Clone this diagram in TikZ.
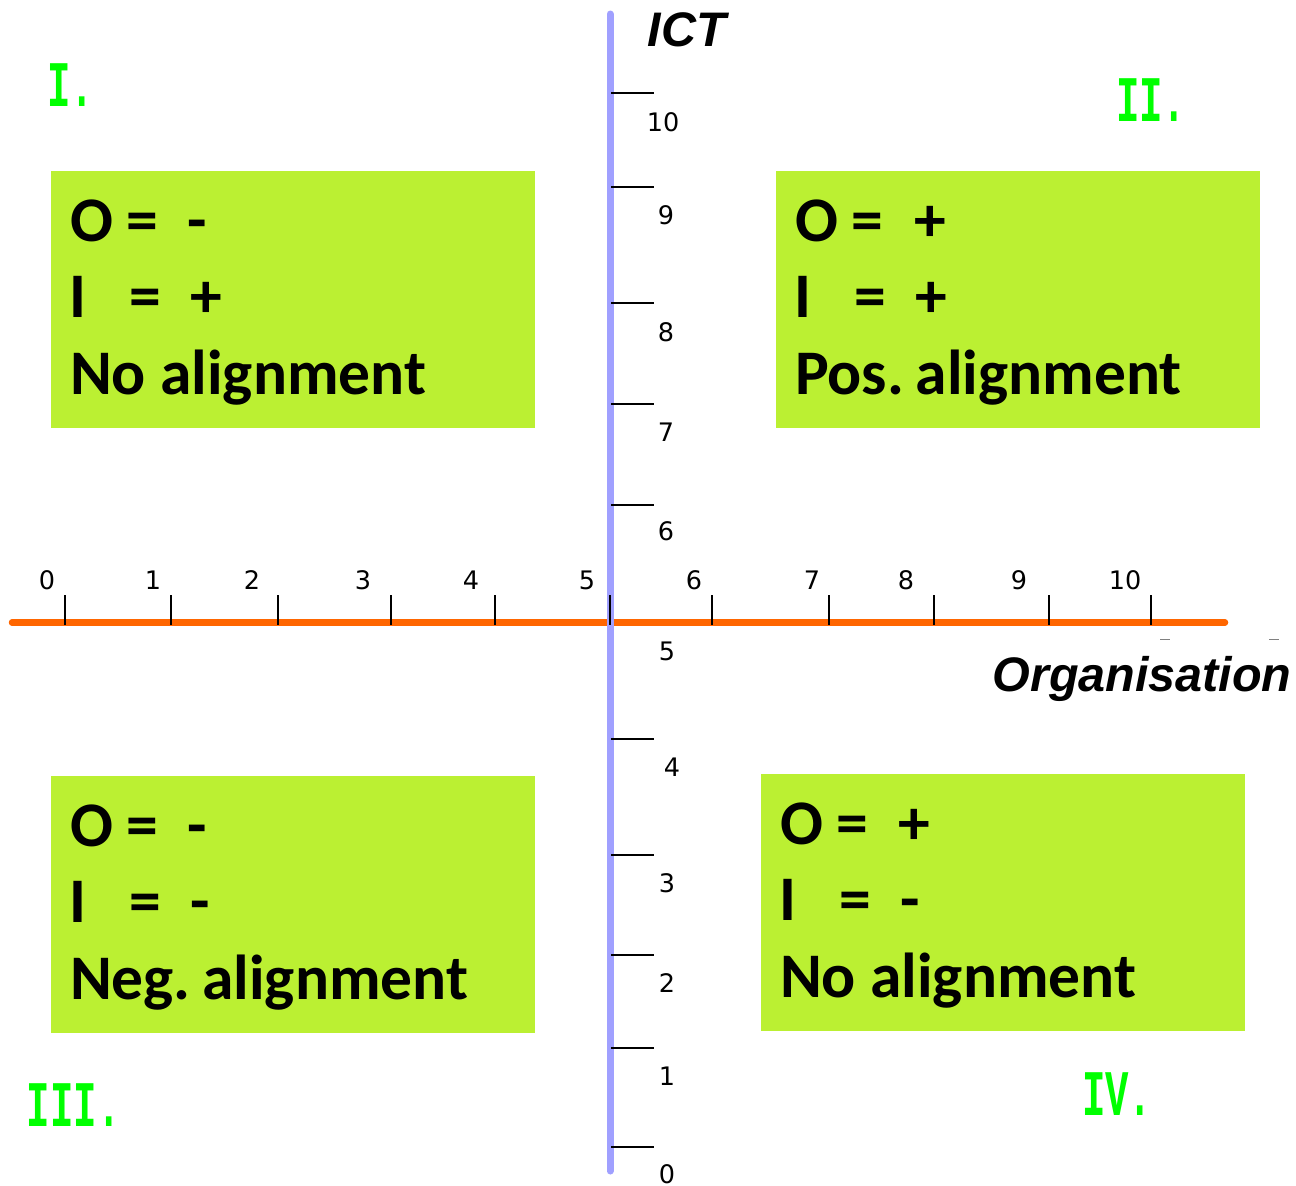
\documentclass[tikz,border=0pt]{standalone}
\usepackage{fontspec}
\setmainfont{DejaVu Sans}
\newfontfamily\boxfont{Carlito}
\newfontfamily\axfont{Liberation Sans}
\newfontfamily\romfont{Liberation Mono}
\definecolor{boxgreen}{RGB}{187,240,50}
\definecolor{romgreen}{RGB}{0,255,0}
\definecolor{axorange}{RGB}{255,102,0}
\definecolor{axblue}{RGB}{160,160,255}
\begin{document}
\begin{tikzpicture}[x=1pt,y=-1pt,
  qbox/.style={fill=boxgreen,draw=none},
  bt/.style={font=\boxfont\bfseries\fontsize{63.5}{76}\selectfont, inner sep=0, outer sep=0, anchor=base},
  btw/.style={bt, anchor=base west},
  num/.style={font=\fontsize{25.5}{30}\selectfont, inner sep=0, outer sep=0},
  rom/.style={text=romgreen, inner sep=0, outer sep=0, anchor=base west, font=\romfont\bfseries\fontsize{65}{78}\selectfont},
  axtitle/.style={font=\axfont\bfseries\itshape\fontsize{48.5}{58}\selectfont, inner sep=0, outer sep=0},
  tick/.style={line width=1.5pt, black}]
\useasboundingbox (0,0) rectangle (1296,1186);
% boxes
\fill[qbox] (51,171) rectangle (535,428);
\fill[qbox] (776,171) rectangle (1260,428);
\fill[qbox] (51,776) rectangle (535,1033);
\fill[qbox] (761,774) rectangle (1245,1031);
% axes
\coordinate (hl) at (12,622.5);
\coordinate (hr) at (1225,622.5);
\coordinate (vt) at (610,14);
\coordinate (vb) at (610,1171);
\draw[axorange, line width=6.5pt, line cap=round] (hl) -- (hr);
\draw[axblue, line width=7pt, line cap=round] (vt) -- (vb);
% horizontal ticks
\foreach \x/\lx/\n in {65/47/0,171/153/1,278/252/2,391/363/3,495/471/4,610/587/5,712/694/6,829/812/7,934/906/8,1049/1019/9,1151/1125/10}{
  \draw[tick] (\x,595) -- (\x,625);
  \node[num] (h\n) at (\lx,580) {\n};
}
% vertical ticks
\foreach \y in {93,187,303,404,505,739,855,955,1048,1147}{
  \draw[tick] (611,\y) -- (654,\y);
}
\foreach \lx/\ly/\n in {663/122/10,666/215/9,666/332/8,666/432/7,666/531/6,667/651/5,672/767/4,667/883/3,667/983/2,667/1076/1,667/1174/0}{
  \node[num] (v\n) at (\lx,\ly) {\n};
}
% small dashes
\draw[gray, line width=1pt] (1160,639) -- (1170,639);
\draw[gray, line width=1pt] (1269,639) -- (1279,639);
% axis titles
\node[axtitle] (ict) at (687,30) {ICT};
\node[axtitle] (org) at (1142,679) {Organisation};
% roman numerals
\node[rom] (r1) at (47,106) {\scalebox{0.6}[1]{I.}};
\node[rom] (r2) at (1116,121) {\scalebox{0.6}[1]{II.}};
\node[rom] (r3) at (27,1126) {\scalebox{0.6}[1]{III.}};
\node[rom] (r4) at (1082,1115) {\scalebox{0.6}[1]{IV.}};
% box 1
\node[bt] (a1) at (91.5,241) {O};
\node[bt] (a2) at (142.5,241) {=};
\node[bt] (a3) at (197,241) {-};
\node[bt] (a4) at (78,317) {I};
\node[bt] (a5) at (145,317) {=};
\node[bt] (a6) at (206,317) {+};
\node[btw] (a7) at (70,394) {No alignment};
% box 2
\node[bt] (b1) at (816.5,241) {O};
\node[bt] (b2) at (867.5,241) {=};
\node[bt] (b3) at (930,241) {+};
\node[bt] (b4) at (803,317) {I};
\node[bt] (b5) at (870,317) {=};
\node[bt] (b6) at (931,317) {+};
\node[btw] (b7) at (795,394) {Pos.\hspace{-0.12em} alignment};
% box 3
\node[bt] (c1) at (91.5,846) {O};
\node[bt] (c2) at (142.5,846) {=};
\node[bt] (c3) at (197,846) {-};
\node[bt] (c4) at (78,922) {I};
\node[bt] (c5) at (145,922) {=};
\node[bt] (c6) at (200,922) {-};
\node[btw] (c7) at (70,999) {Neg.\hspace{-0.12em} alignment};
% box 4
\node[bt] (d1) at (801.5,844) {O};
\node[bt] (d2) at (852.5,844) {=};
\node[bt] (d3) at (914,844) {+};
\node[bt] (d4) at (788,920) {I};
\node[bt] (d5) at (855,920) {=};
\node[bt] (d6) at (910,920) {-};
\node[btw] (d7) at (780,997) {No alignment};
\end{tikzpicture}
\end{document}
